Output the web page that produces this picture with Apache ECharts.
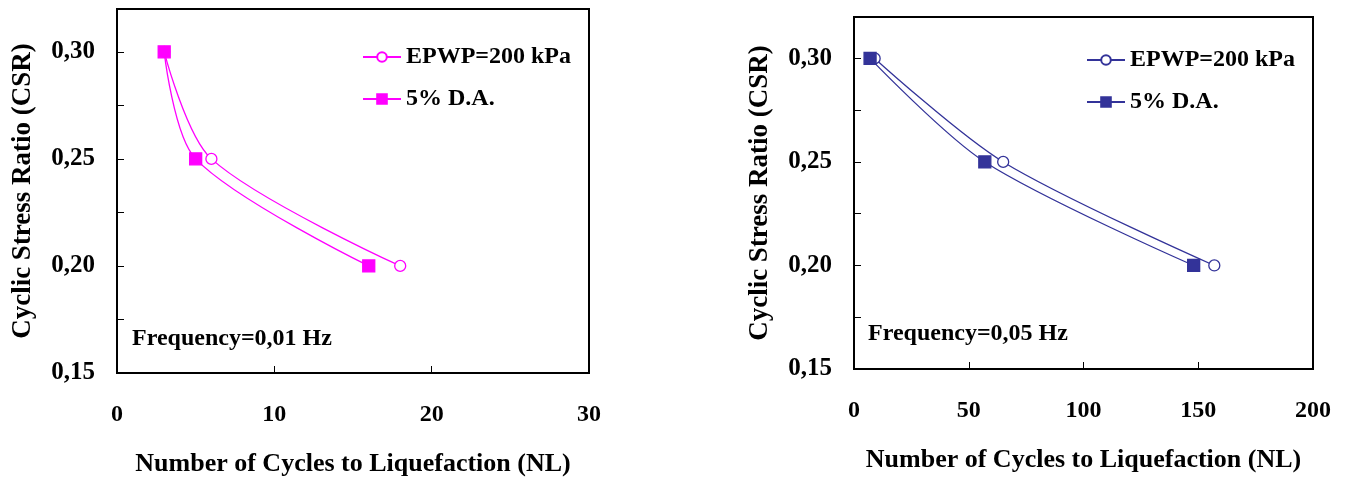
<!DOCTYPE html>
<html>
<head>
<meta charset="utf-8">
<title>CSR vs NL</title>
<script src="https://cdn.jsdelivr.net/npm/echarts@6.0.0/dist/echarts.min.js"></script>
<style>
	html, body { margin: 0; padding: 0; background: #fff; }
	#chart_box { width: 1347px; height: 478px; }
</style>
</head>
<body>
<div id="chart_box"></div>
<script>
// 数据 -- 循环应力比
var csr = [0.30, 0.25, 0.20];
// 左图 0,01 Hz
var leftEpwp = [3, 6, 18];
var leftDa = [3, 5, 16];
// 右图 0,05 Hz
var rightEpwp = [9, 65, 157];
var rightDa = [7, 57, 148];
// 坐标刻度
var yLabelTicks = [0.15, 0.20, 0.25, 0.30];
var yTicks = [0.15, 0.175, 0.20, 0.225, 0.25, 0.275, 0.30];
var leftXTicks = [0, 10, 20, 30];
var rightXTicks = [0, 50, 100, 150, 200];

var serif = "Liberation Serif";
var magenta = "#ff00ff";
var navy = "#333399";

function pairs(xs, ys) {
	var out = [];
	for (var i = 0; i < xs.length; i++) {
		out.push([xs[i], ys[i]]);
	}
	return out;
}

function xAxisOf(idx, max, interval, ticks) {
	return {
		type: "value", gridIndex: idx, min: 0, max: max, interval: interval,
		name: "Number of Cycles to Liquefaction (NL)",
		nameLocation: "middle", nameGap: 78,
		nameTextStyle: { fontFamily: serif, fontWeight: "bold", fontSize: 26, color: "#000" },
		axisLine: { lineStyle: { color: "#000", width: 2 } },
		axisTick: { inside: true, length: 7, customValues: ticks, lineStyle: { color: "#000", width: 1 } },
		axisLabel: { margin: 30, customValues: ticks, fontFamily: serif, fontWeight: "bold", fontSize: 24, color: "#000" },
		splitLine: { show: false }
	};
}

function yAxisOf(idx) {
	return {
		type: "value", gridIndex: idx, min: 0.15, max: 0.32,
		name: "Cyclic Stress Ratio (CSR)",
		nameLocation: "middle", nameGap: 80,
		nameTextStyle: { fontFamily: serif, fontWeight: "bold", fontSize: 27, color: "#000" },
		axisLine: { lineStyle: { color: "#000", width: 2 } },
		axisTick: { inside: true, length: 7, customValues: yTicks, lineStyle: { color: "#000", width: 1 } },
		axisLabel: {
			margin: 22, customValues: yLabelTicks,
			fontFamily: serif, fontWeight: "bold", fontSize: 25, color: "#000",
			formatter: function(v) { return v.toFixed(2).replace(".", ","); }
		},
		splitLine: { show: false }
	};
}

function lineOf(name, idx, data, color, symbol) {
	return {
		name: name, type: "line", xAxisIndex: idx, yAxisIndex: idx,
		data: data, smooth: 0.3,
		symbol: symbol, symbolSize: symbol == "rect" ? 12 : 11,
		lineStyle: { color: color, width: 1.3 },
		itemStyle: { color: symbol == "rect" ? color : "#fff", borderColor: color, borderWidth: 1.3 }
	};
}

function legendOf(left, top, names) {
	return {
		orient: "vertical", left: left, top: top, data: names, padding: 0,
		itemWidth: 38, itemHeight: 12, itemGap: 18,
		textStyle: { fontFamily: serif, fontWeight: "bold", fontSize: 24, color: "#000" }
	};
}

var myChart = echarts.init(document.getElementById("chart_box"));
var option = {
	animation: false,
	grid: [
		{ left: 117, top: 9, width: 472, height: 364, outerBoundsMode: "none",
			show: true, borderColor: "#000", borderWidth: 2 },
		{ left: 854, top: 17, width: 459, height: 352, outerBoundsMode: "none",
			show: true, borderColor: "#000", borderWidth: 2 }
	],
	xAxis: [xAxisOf(0, 30, 10, leftXTicks), xAxisOf(1, 200, 50, rightXTicks)],
	yAxis: [yAxisOf(0), yAxisOf(1)],
	legend: [
		legendOf(362, 45, [{ name: "EPWP=200 kPa" }, { name: "5% D.A." }]),
		legendOf(1086, 48, [{ name: "EPWP=200 kPa " }, { name: "5% D.A. " }])
	],
	title: [
		{ text: "Frequency=0,01 Hz", left: 132, top: 327, padding: 0,
			textStyle: { fontFamily: serif, fontWeight: "bold", fontSize: 24, color: "#000" } },
		{ text: "Frequency=0,05 Hz", left: 868, top: 322, padding: 0,
			textStyle: { fontFamily: serif, fontWeight: "bold", fontSize: 24, color: "#000" } }
	],
	series: [
		lineOf("EPWP=200 kPa", 0, pairs(leftEpwp, csr), magenta, "circle"),
		lineOf("5% D.A.", 0, pairs(leftDa, csr), magenta, "rect"),
		lineOf("EPWP=200 kPa ", 1, pairs(rightEpwp, csr), navy, "circle"),
		lineOf("5% D.A. ", 1, pairs(rightDa, csr), navy, "rect")
	]
};
myChart.setOption(option, true);
</script>
</body>
</html>
